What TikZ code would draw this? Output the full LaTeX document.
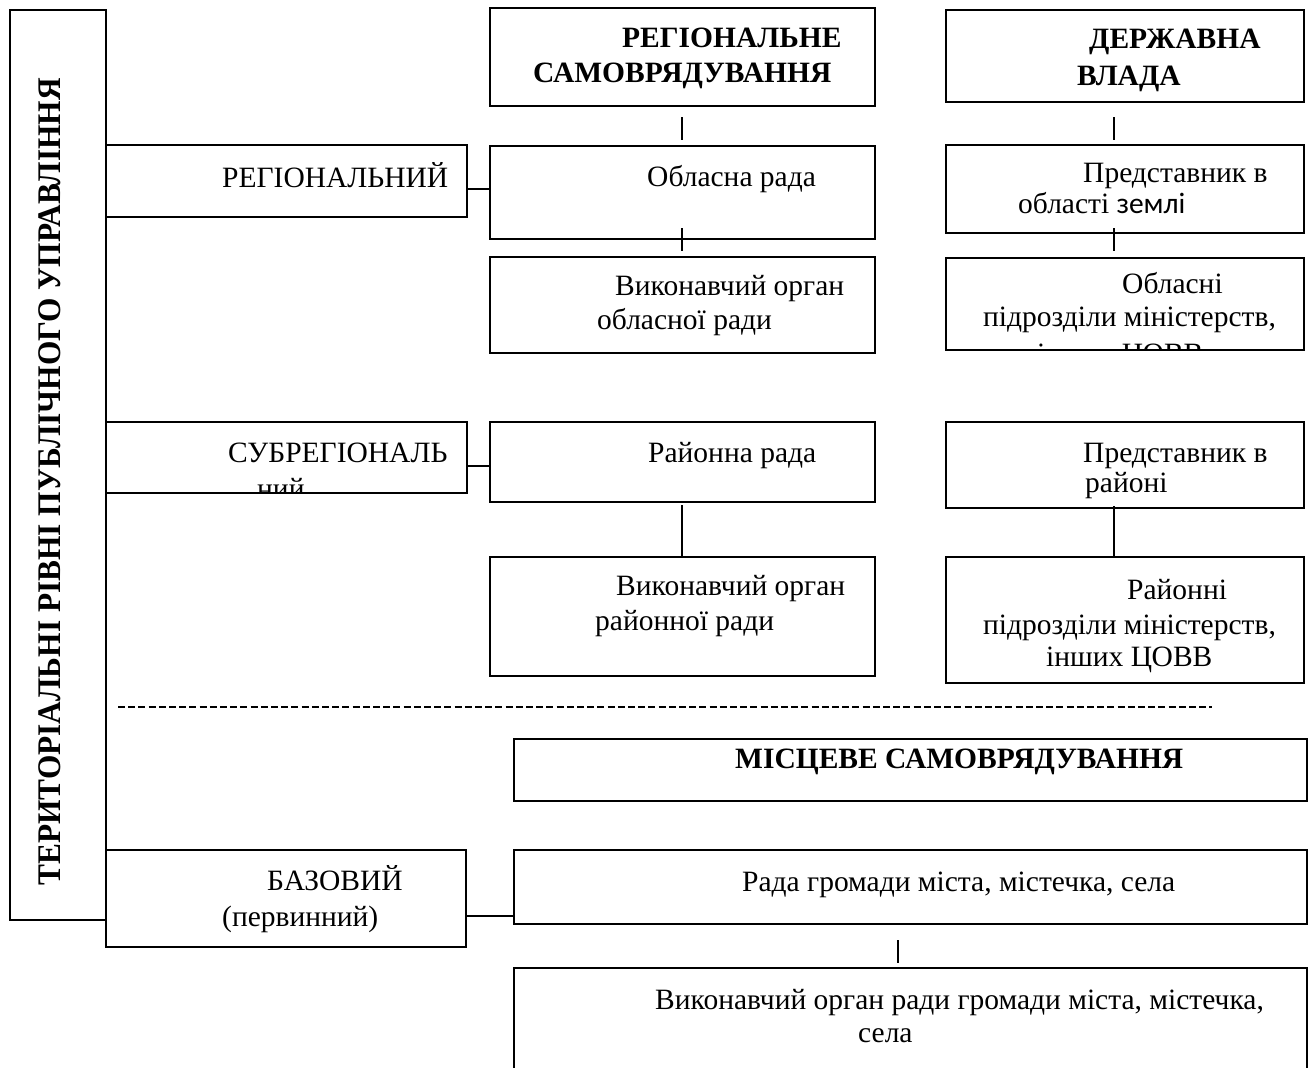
\documentclass[tikz,border=0pt]{standalone}
\usepackage{fontspec}
\setmainfont{Liberation Serif}
\newfontfamily\carl{Carlito}
\newcommand\mkbox[5]{\node[bx, minimum width=#4pt-#2pt, minimum height=#5pt-#3pt] (#1) at (#2,#3) {};}
\begin{document}
\begin{tikzpicture}[x=1pt,y=-1pt,
  bx/.style={draw, line width=1.6pt, inner sep=0pt, outer sep=0pt, anchor=north west},
  tx/.style={anchor=base west, inner sep=0pt, font=\fontsize{29.5}{34}\selectfont},
  tb/.style={anchor=base west, inner sep=0pt, font=\fontsize{29.5}{34}\selectfont\bfseries},
  cn/.style={line width=1.4pt}]
\useasboundingbox (0,0) rectangle (1312,1068);
% boxes
\mkbox{outer}{10}{10}{106}{920}
\mkbox{rs}{490}{8}{875}{106}
\mkbox{dv}{946}{10}{1304}{102}
\mkbox{reg}{106}{145}{467}{217}
\mkbox{obl}{490}{146}{875}{239}
\mkbox{vob}{490}{257}{875}{353}
\mkbox{pob}{946}{145}{1304}{233}
\mkbox{pdob}{946}{258}{1304}{350}
\mkbox{sub}{106}{422}{467}{493}
\mkbox{rr}{490}{422}{875}{502}
\mkbox{pr}{946}{422}{1304}{508}
\mkbox{vr}{490}{557}{875}{676}
\mkbox{prr}{946}{557}{1304}{683}
\mkbox{ms}{514}{739}{1307}{801}
\mkbox{baz}{106}{850}{466}{947}
\mkbox{rg}{514}{850}{1307}{924}
\mkbox{vrg}{514}{968}{1307}{1080}
% vertical title
\node[inner sep=0pt, rotate=90, font=\fontsize{33}{38}\selectfont\bfseries] (title) at (50,482) {\scalebox{0.95}[1]{ТЕРИТОРІАЛЬНІ РІВНІ ПУБЛІЧНОГО УПРАВЛІННЯ}};
% texts
\node[tb] (t1) at (622,47) {РЕГІОНАЛЬНЕ};
\node[tb] (t2) at (533,82) {САМОВРЯДУВАННЯ};
\node[tb] (t3) at (1089,48) {ДЕРЖАВНА};
\node[tb] (t4) at (1077,85) {ВЛАДА};
\node[tx] (t5) at (222,187) {РЕГІОНАЛЬНИЙ};
\node[tx] (t6) at (647,186) {Обласна рада};
\node[tx] (t7) at (615,295) {Виконавчий орган};
\node[tx] (t8) at (597,329) {обласної ради};
\node[tx] (t9) at (1083,182) {Представник в};
\node[tx] (t10) at (1018,213) {області {\carl землі}};
\node[tx] (t11) at (1122,293) {Обласні};
\node[tx] (t12) at (983,326) {підрозділи міністерств,};
\begin{scope}
\clip ([shift={(1pt,-1pt)}]pdob.north west) rectangle ([shift={(-1pt,1pt)}]pdob.south east);
\node[tx] (t13) at (1037,363) {інших ЦОВВ};
\end{scope}
\node[tx] (t14) at (228,462) {СУБРЕГІОНАЛЬ};
\begin{scope}
\clip ([shift={(1pt,-1pt)}]sub.north west) rectangle ([shift={(-1pt,1pt)}]sub.south east);
\node[tx] (t15) at (257,498) {ний};
\end{scope}
\node[tx] (t16) at (648,462) {Районна рада};
\node[tx] (t17) at (1083,462) {Представник в};
\node[tx] (t18) at (1085,492) {районі};
\node[tx] (t19) at (616,595) {Виконавчий орган};
\node[tx] (t20) at (595,630) {районної ради};
\node[tx] (t21) at (1127,599) {Районні};
\node[tx] (t22) at (983,634) {підрозділи міністерств,};
\node[tx] (t23) at (1046,666) {інших ЦОВВ};
\node[tb] (t24) at (735,768) {МІСЦЕВЕ САМОВРЯДУВАННЯ};
\node[tx] (t25) at (267,890) {БАЗОВИЙ};
\node[tx] (t26) at (222,926) {(первинний)};
\node[tx] (t27) at (742,891) {Рада громади міста, містечка, села};
\node[tx] (t28) at (655,1009) {Виконавчий орган ради громади міста, містечка,};
\node[tx] (t29) at (858,1042) {села};
% connectors
\draw[cn] (reg.east |- 0,189) -- (obl.west |- 0,189);
\draw[cn] (sub.east |- 0,466) -- (rr.west |- 0,466);
\draw[cn] (baz.east |- 0,916) -- (rg.west |- 0,916);
\draw[cn] (rs.south -| 682,0) ++(0,11) -- ++(0,23);
\draw[cn] (dv.south -| 1114,0) ++(0,15) -- ++(0,23);
\draw[cn] (obl.south -| 682,0) ++(0,-11) -- ++(0,23);
\draw[cn] (pob.south -| 1114,0) ++(0,-5) -- ++(0,23);
\draw[cn] (rr.south -| 682,0) ++(0,3) -- (vr.north -| 682,0);
\draw[cn] (pr.south -| 1114,0) ++(0,-2) -- (prr.north -| 1114,0);
\draw[cn] (rg.south -| 898,0) ++(0,16) -- ++(0,23);
% dashed separator
\draw[line width=2pt, dash pattern=on 7pt off 3.2pt] (118,707) -- (1212,707);
\end{tikzpicture}
\end{document}
